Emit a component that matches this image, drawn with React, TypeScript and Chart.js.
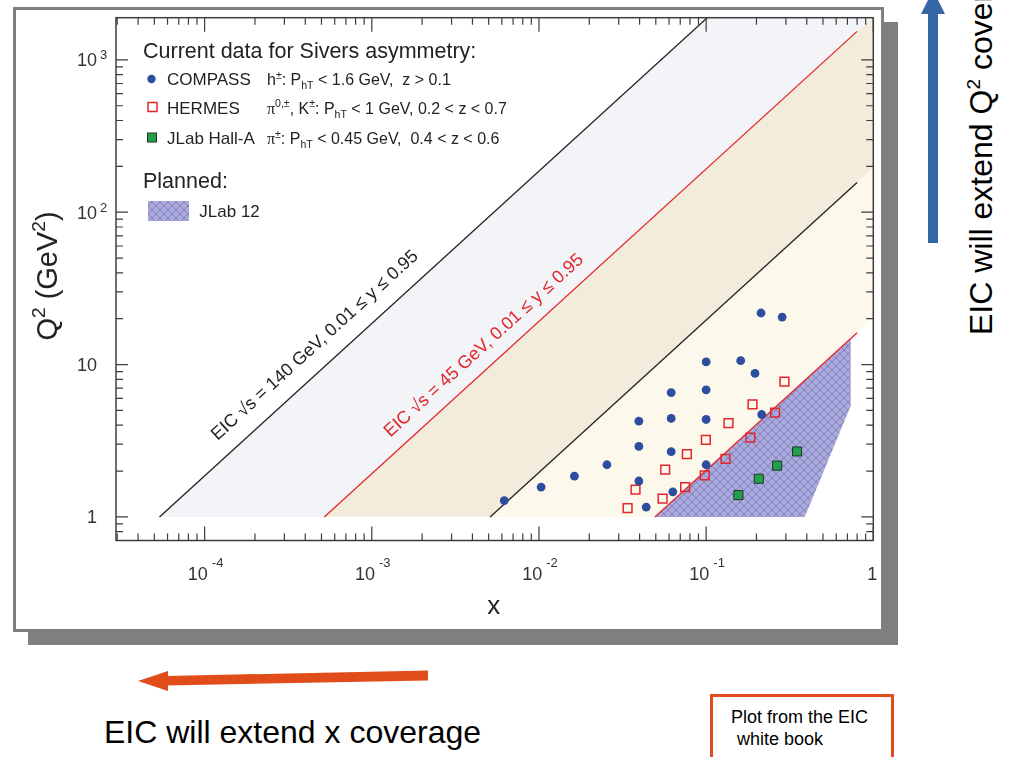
import { useEffect, useRef } from 'react';
import { Chart, registerables } from 'chart.js';

Chart.register(...registerables);

// COMPASS h± Sivers bins (x, Q² in GeV²)
const compassX = [0.0062, 0.0103, 0.0163, 0.0255, 0.0396, 0.0396, 0.0396, 0.0438, 0.0618, 0.0618, 0.0618, 0.0632, 0.1, 0.1, 0.1, 0.1, 0.161, 0.196, 0.215, 0.213, 0.285];
const compassQ2 = [1.28, 1.57, 1.85, 2.2, 4.25, 2.9, 1.72, 1.16, 6.55, 4.43, 2.68, 1.46, 10.4, 6.82, 4.36, 2.2, 10.6, 8.75, 4.7, 21.8, 20.5];

// HERMES π/K bins
const hermesX = [0.0339, 0.0378, 0.0549, 0.0569, 0.0749, 0.0767, 0.0982, 0.0996, 0.1306, 0.1361, 0.1842, 0.1894, 0.2585, 0.2941];
const hermesQ2 = [1.14, 1.51, 1.32, 2.04, 1.57, 2.58, 1.87, 3.2, 2.4, 4.13, 3.32, 5.48, 4.84, 7.72];

// JLab Hall-A π± bins
const jlabX = [0.156, 0.2065, 0.266, 0.35];
const jlabQ2 = [1.39, 1.78, 2.17, 2.69];

// JLab 12 GeV planned coverage, outline vertices
const jlab12X = [0.0494, 0.733, 0.733, 0.389];
const jlab12Q2 = [1, 14.8, 5.37, 1];

// EIC configurations: √s (GeV) and inelasticity range, Q² = x·y·s
const eicSqrtS = [140, 45];
const eicY = [0.01, 0.95];
const q2Floor = 1;
const lineXEnd = 0.8;

// Axis ranges and tick labels
const xRange = [2.95e-5, 1];
const q2Range = [0.729, 1892];
const xTickValues = [1e-4, 1e-3, 1e-2, 1e-1, 1];
const xTickBase = ['10', '10', '10', '10', '1'];
const xTickExp = ['-4', '-3', '-2', '-1', ''];
const yTickValues = [1, 10, 100, 1000];
const yTickBase = ['1', '10', '10', '10'];
const yTickExp = ['', '', '2', '3'];

type Seg = { t: string; k?: 'sup' | 'sub' | 'sym' };

const legendNames = ['COMPASS', 'HERMES', 'JLab Hall-A'];
const legendCuts: Seg[][] = [
  [{ t: 'h' }, { t: '±', k: 'sup' }, { t: ': P' }, { t: 'hT', k: 'sub' }, { t: ' < 1.6 GeV,  z > 0.1' }],
  [{ t: 'π', k: 'sym' }, { t: '0,±', k: 'sup' }, { t: ', K' }, { t: '±', k: 'sup' }, { t: ': P' }, { t: 'hT', k: 'sub' }, { t: ' < 1 GeV, 0.2 < z < 0.7' }],
  [{ t: 'π', k: 'sym' }, { t: '±', k: 'sup' }, { t: ': P' }, { t: 'hT', k: 'sub' }, { t: ' < 0.45 GeV,  0.4 < z < 0.6' }],
];

const SANS = '"Liberation Sans", Arial, Helvetica, sans-serif';
const SERIF = '"Liberation Serif", "Times New Roman", serif';

const INK = '#232323';
const RED = '#e3262b';
const BLUE = '#2d4e9e';
const GREEN = '#22a04b';

function segFont(s: Seg, size: number) {
  const fs = s.k === 'sup' || s.k === 'sub' ? size * 0.66 : size;
  return `${fs}px ${s.k === 'sym' ? SERIF : SANS}`;
}
function richWidth(ctx: CanvasRenderingContext2D, segs: Seg[], size: number) {
  let w = 0;
  for (const s of segs) {
    ctx.font = segFont(s, size);
    w += ctx.measureText(s.t).width;
  }
  return w;
}
function drawRich(ctx: CanvasRenderingContext2D, segs: Seg[], x: number, y: number, size: number) {
  let cx = x;
  ctx.textAlign = 'left';
  for (const s of segs) {
    ctx.font = segFont(s, size);
    const dy = s.k === 'sup' ? -size * 0.4 : s.k === 'sub' ? size * 0.25 : 0;
    ctx.fillText(s.t, cx, y + dy);
    cx += ctx.measureText(s.t).width;
  }
}

function makeHatch(): CanvasPattern | string {
  const c = document.createElement('canvas');
  const s = 8;
  c.width = s;
  c.height = s;
  const g = c.getContext('2d');
  if (!g) return '#a9a9d9';
  g.fillStyle = '#aaaada';
  g.fillRect(0, 0, s, s);
  g.strokeStyle = '#8181c3';
  g.lineWidth = 1;
  g.beginPath();
  g.moveTo(0, 0);
  g.lineTo(s, s);
  g.moveTo(s, 0);
  g.lineTo(0, s);
  g.stroke();
  return g.createPattern(c, 'repeat') || '#a9a9d9';
}

const pts = (xs: number[], ys: number[]) => xs.map((x, i) => ({ x, y: ys[i] }));

// region between two kinematic limits (Q² = x·y·s), from Q² = 1 up to x = 1
function band(sA: number, yA: number, sB: number, yB: number) {
  return [
    { x: q2Floor / (sA * yA), y: q2Floor },
    { x: 1, y: sA * yA },
    { x: 1, y: sB * yB },
    { x: q2Floor / (sB * yB), y: q2Floor },
  ];
}
function limitLine(s: number, y: number) {
  return [
    { x: q2Floor / (s * y), y: q2Floor },
    { x: lineXEnd, y: s * y * lineXEnd },
  ];
}

export default function App() {
  const ref = useRef<HTMLCanvasElement>(null);

  useEffect(() => {
    const canvas = ref.current;
    if (!canvas) return;
    const hatch = makeHatch();
    const s140 = eicSqrtS[0] * eicSqrtS[0];
    const s45 = eicSqrtS[1] * eicSqrtS[1];
    const [yLo, yHi] = eicY;

    const areaSet = (data: any[], color: any, order: number) => ({
      data,
      showLine: true,
      fill: 'shape',
      backgroundColor: color,
      borderColor: 'rgba(0,0,0,0)',
      borderWidth: 0,
      pointRadius: 0,
      tension: 0,
      order,
    });
    const lineSet = (data: any[], color: string) => ({
      data,
      showLine: true,
      fill: false,
      borderColor: color,
      borderWidth: 1.3,
      pointRadius: 0,
      tension: 0,
      order: 10,
    });

    const annotate = (chart: any) => {
      const { ctx, scales } = chart;
      const xs = scales.x;
      const ys = scales.y;
      const labels = [
        { s: s140, text: `EIC √s = ${eicSqrtS[0]} GeV, ${yLo} ≤ y ≤ ${yHi}`, color: INK, along: 94, off: 17 },
        { s: s45, text: `EIC √s = ${eicSqrtS[1]} GeV, ${yLo} ≤ y ≤ ${yHi}`, color: RED, along: 102, off: 14 },
      ];
      for (const l of labels) {
        const x0 = q2Floor / (l.s * yHi);
        const p0x = xs.getPixelForValue(x0);
        const p0y = ys.getPixelForValue(q2Floor);
        const p1x = xs.getPixelForValue(x0 * 10);
        const p1y = ys.getPixelForValue(q2Floor * 10);
        const ang = Math.atan2(p1y - p0y, p1x - p0x);
        const ux = Math.cos(ang);
        const uy = Math.sin(ang);
        const bx = p0x + ux * l.along + uy * l.off;
        const by = p0y + uy * l.along - ux * l.off;
        ctx.save();
        ctx.translate(bx, by);
        ctx.rotate(ang);
        ctx.fillStyle = l.color;
        ctx.font = `18px ${SANS}`;
        ctx.textAlign = 'left';
        ctx.textBaseline = 'alphabetic';
        ctx.fillText(l.text, 0, 0);
        ctx.restore();
      }
    };

    const framePlugin = {
      id: 'frameAndLegend',
      afterDatasetsDraw(chart: any) {
        const { ctx, chartArea: a, scales } = chart;
        const xs = scales.x;
        const ys = scales.y;
        ctx.save();
        annotate(chart);

        // frame
        ctx.strokeStyle = '#3d3d3d';
        ctx.lineWidth = 1.5;
        ctx.strokeRect(a.left, a.top, a.right - a.left, a.bottom - a.top);

        // inward ticks on all four sides
        ctx.lineWidth = 1.2;
        ctx.beginPath();
        for (let d = -5; d <= 0; d++) {
          for (let m = 1; m <= 9; m++) {
            const v = m * Math.pow(10, d);
            if (v < xRange[0] || v > xRange[1] * 1.0001) continue;
            const px = xs.getPixelForValue(v);
            const len = m === 1 ? 14 : 7;
            ctx.moveTo(px, a.bottom);
            ctx.lineTo(px, a.bottom - len);
            ctx.moveTo(px, a.top);
            ctx.lineTo(px, a.top + len);
          }
        }
        for (let d = -1; d <= 3; d++) {
          for (let m = 1; m <= 9; m++) {
            const v = m * Math.pow(10, d);
            if (v < q2Range[0] || v > q2Range[1]) continue;
            const py = ys.getPixelForValue(v);
            const len = m === 1 ? 12 : 7;
            ctx.moveTo(a.left, py);
            ctx.lineTo(a.left + len, py);
            ctx.moveTo(a.right, py);
            ctx.lineTo(a.right - len, py);
          }
        }
        ctx.stroke();

        // tick labels
        ctx.fillStyle = '#333';
        ctx.textBaseline = 'alphabetic';
        xTickValues.forEach((v, i) => {
          const px = xs.getPixelForValue(v);
          ctx.font = `18px ${SANS}`;
          const wb = ctx.measureText(xTickBase[i]).width;
          if (!xTickExp[i]) {
            ctx.textAlign = 'center';
            ctx.fillText(xTickBase[i], px - 1, 570);
            return;
          }
          ctx.font = `13px ${SANS}`;
          const we = ctx.measureText(xTickExp[i]).width;
          const start = px + 1 - (wb + 4 + we) / 2;
          ctx.textAlign = 'left';
          ctx.font = `18px ${SANS}`;
          ctx.fillText(xTickBase[i], start, 570);
          ctx.font = `13px ${SANS}`;
          ctx.fillText(xTickExp[i], start + wb + 4, 557);
        });
        yTickValues.forEach((v, i) => {
          const py = ys.getPixelForValue(v);
          ctx.font = `18px ${SANS}`;
          ctx.textAlign = 'right';
          ctx.fillText(yTickBase[i], 81, py + 6.5);
          if (yTickExp[i]) {
            ctx.font = `13px ${SANS}`;
            ctx.textAlign = 'left';
            ctx.fillText(yTickExp[i], 84, py - 0.5);
          }
        });

        // axis titles
        ctx.fillStyle = INK;
        ctx.font = `26px ${SANS}`;
        ctx.textAlign = 'center';
        ctx.fillText('x', (a.left + a.right) / 2 - 1, 604);
        const qTitle: Seg[] = [{ t: 'Q' }, { t: '2', k: 'sup' }, { t: ' (GeV' }, { t: '2', k: 'sup' }, { t: ')' }];
        const qw = richWidth(ctx, qTitle, 29);
        ctx.save();
        ctx.translate(41, 266);
        ctx.rotate(-Math.PI / 2);
        drawRich(ctx, qTitle, -qw / 2, 0, 29);
        ctx.restore();

        // legend
        ctx.fillStyle = INK;
        ctx.font = `21.5px ${SANS}`;
        ctx.textAlign = 'left';
        ctx.fillText('Current data for Sivers asymmetry:', 127, 48.3);
        const rowBase = [75, 103.5, 134];
        const rowMark = [69, 97, 127.5];
        ctx.fillStyle = BLUE;
        ctx.beginPath();
        ctx.arc(135.5, rowMark[0], 4.2, 0, Math.PI * 2);
        ctx.fill();
        ctx.strokeStyle = RED;
        ctx.lineWidth = 1.5;
        ctx.strokeRect(132, rowMark[1] - 4.5, 9, 9);
        ctx.fillStyle = GREEN;
        ctx.fillRect(131.5, rowMark[2] - 4.5, 9, 9);
        ctx.strokeStyle = '#1f3524';
        ctx.lineWidth = 1;
        ctx.strokeRect(131.5, rowMark[2] - 4.5, 9, 9);
        legendNames.forEach((n, i) => {
          ctx.fillStyle = INK;
          ctx.font = `17px ${SANS}`;
          ctx.textAlign = 'left';
          ctx.fillText(n, 151, rowBase[i]);
          drawRich(ctx, legendCuts[i], 251, rowBase[i], 16);
        });
        ctx.font = `21.5px ${SANS}`;
        ctx.fillText('Planned:', 127, 178.3);
        ctx.fillStyle = hatch;
        ctx.fillRect(132, 191, 41, 20);
        ctx.fillStyle = INK;
        ctx.font = `17px ${SANS}`;
        ctx.fillText('JLab 12', 183.3, 206.7);
        ctx.restore();
      },
    };

    const chart = new Chart(canvas, {
      type: 'line',
      data: {
        datasets: [
          { label: 'COMPASS', data: pts(compassX, compassQ2), showLine: false, pointStyle: 'circle', pointRadius: 4.4, pointBackgroundColor: BLUE, pointBorderColor: BLUE, pointBorderWidth: 0, order: 2 } as any,
          { label: 'HERMES', data: pts(hermesX, hermesQ2), showLine: false, pointStyle: 'rect', pointRadius: 6.2, pointBackgroundColor: 'rgba(0,0,0,0)', pointBorderColor: RED, pointBorderWidth: 1.5, order: 3 } as any,
          { label: 'JLab Hall-A', data: pts(jlabX, jlabQ2), showLine: false, pointStyle: 'rect', pointRadius: 6.4, pointBackgroundColor: GREEN, pointBorderColor: '#1f3524', pointBorderWidth: 1, order: 1 } as any,
          { label: 'JLab 12', ...areaSet(pts(jlab12X, jlab12Q2), hatch, 20) } as any,
          { label: 'EIC 140 upper', ...lineSet(limitLine(s140, yHi), INK) } as any,
          { label: 'EIC 140 lower', ...lineSet(limitLine(s140, yLo), INK) } as any,
          { label: 'EIC 45 upper', ...lineSet(limitLine(s45, yHi), RED) } as any,
          { label: 'EIC 45 lower', ...lineSet(limitLine(s45, yLo), RED) } as any,
          { label: 'EIC 140 only', ...areaSet(band(s140, yHi, s45, yHi), '#f2f4f7', 30) } as any,
          { label: 'EIC 140 and 45', ...areaSet(band(s45, yHi, s140, yLo), '#f3ebdb', 29) } as any,
          { label: 'EIC 45 only', ...areaSet(band(s140, yLo, s45, yLo), '#fdf8ec', 28) } as any,
        ],
      },
      options: {
        responsive: false,
        maintainAspectRatio: false,
        animation: false,
        devicePixelRatio: 1,
        events: [],
        layout: { padding: { left: 100, right: 6, top: 2.5, bottom: 88.5 } },
        scales: {
          x: { type: 'logarithmic', min: xRange[0], max: xRange[1], display: false },
          y: { type: 'logarithmic', min: q2Range[0], max: q2Range[1], display: false },
        },
        plugins: { legend: { display: false }, tooltip: { enabled: false } },
      } as any,
      plugins: [framePlugin],
    });
    return () => chart.destroy();
  }, []);

  return (
    <div style={{ position: 'absolute', left: 0, top: 0, width: 1014, height: 757, overflow: 'hidden', background: '#fff' }}>
      <svg width={1014} height={757} style={{ position: 'absolute', left: 0, top: 0 }}>
        <rect x={28} y={22} width={870} height={623} fill="#7f7f7f" />
        <rect x={14.5} y={8.5} width={868} height={622} fill="#fff" stroke="#7f7f7f" strokeWidth={3} />
        {/* x-coverage arrow */}
        <polygon points="166,676 428,670.5 428,680.5 166,685.5" fill="#e04d1b" />
        <polygon points="138,681 168,671 168,691" fill="#e04d1b" />
        {/* Q² coverage arrow */}
        <rect x={928} y={10} width={10} height={233} fill="#3465a4" />
        <polygon points="921,14 945,14 933,-10" fill="#3465a4" />
        <text x={992} y={335} transform="rotate(-90 992 335)" fontSize={32} fontFamily={SANS} fill="#000">
          EIC will extend Q<tspan dy={-12} fontSize={19}>2</tspan><tspan dy={12}> coverage</tspan>
        </text>
        <text x={104} y={743} fontSize={32} fontFamily={SANS} fill="#000">EIC will extend x coverage</text>
        <rect x={711.5} y={695.5} width={181} height={90} fill="#fff" stroke="#e04d1b" strokeWidth={3} />
        <text x={731} y={723} fontSize={18} fontFamily={SANS} fill="#000">Plot from the EIC</text>
        <text x={737} y={745} fontSize={18} fontFamily={SANS} fill="#000">white book</text>
      </svg>
      <canvas ref={ref} width={865} height={619} style={{ position: 'absolute', left: 16, top: 10, width: 865, height: 619 }} />
    </div>
  );
}
